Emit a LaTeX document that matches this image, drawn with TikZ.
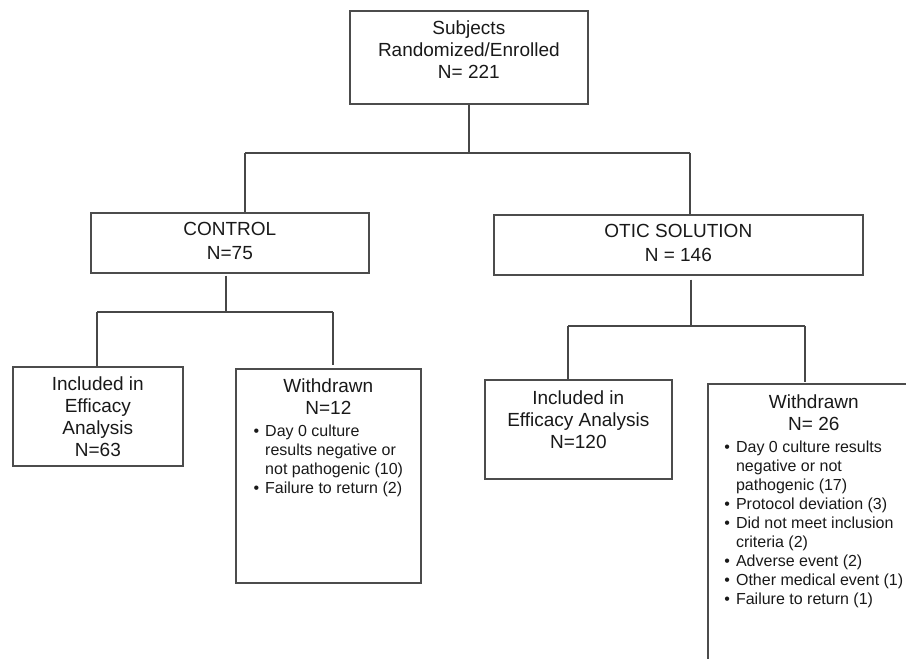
\documentclass[tikz,border=0pt]{standalone}
\usepackage{fontspec}
\setmainfont{Liberation Sans}
\usetikzlibrary{calc}
\newcommand{\ttlfont}{\fontsize{19}{22}\selectfont}
\newcommand{\itmfont}{\fontsize{16}{19}\selectfont}
\tikzset{
  box/.style={draw=black!70, line width=1.7pt, inner sep=0pt, anchor=north west},
  conn/.style={draw=black!72, line width=1.6pt},
  txt/.style={inner sep=0pt, anchor=base, text=black!90},
}
\begin{document}
\begin{tikzpicture}[x=1pt,y=-1pt]
\useasboundingbox (0,0) rectangle (906,659);
\clip (0,0) rectangle (906,659);
% boxes
\node[box, minimum width=238pt, minimum height=93pt] (top) at (349,10) {};
\node[box, minimum width=278pt, minimum height=60pt] (ctrl) at (90,212) {};
\node[box, minimum width=369pt, minimum height=60pt] (otic) at (493,214) {};
\node[box, minimum width=170pt, minimum height=99pt] (ci) at (12,366) {};
\node[box, minimum width=185pt, minimum height=214pt] (cw) at (235,368) {};
\node[box, minimum width=187pt, minimum height=99pt] (oi) at (484,379) {};
\node[box, minimum width=212pt, minimum height=320pt] (ow) at (707,383) {};
% texts
\node[txt] (top-t) at ($(top.north)+(0,24)$) {\ttlfont\begin{tabular}[t]{@{}c@{}}Subjects\\Randomized/Enrolled\\N= 221\end{tabular}};
\node[txt] (ctrl-t) at ($(ctrl.north)+(0,23)$) {\ttlfont\begin{tabular}[t]{@{}c@{}}CONTROL\\[2pt]N=75\end{tabular}};
\node[txt] (otic-t) at ($(otic.north)+(0,23)$) {\ttlfont\begin{tabular}[t]{@{}c@{}}OTIC SOLUTION\\[2pt]N = 146\end{tabular}};
\node[txt] (ci-t) at ($(ci.north)+(0,24)$) {\ttlfont\begin{tabular}[t]{@{}c@{}}Included in\\Efficacy\\Analysis\\N=63\end{tabular}};
\node[txt] (oi-t) at ($(oi.north)+(0,25)$) {\ttlfont\begin{tabular}[t]{@{}c@{}}Included in\\Efficacy Analysis\\N=120\end{tabular}};
\node[txt] (cw-t) at ($(cw.north)+(0,24)$) {\itmfont\begin{tabular}[t]{@{}l@{\hspace{6pt}}l@{}}
\multicolumn{2}{c}{\ttlfont Withdrawn}\\[3pt]
\multicolumn{2}{c}{\ttlfont N=12}\\[3pt]
\textbullet & Day 0 culture\\
 & results negative or\\
 & not pathogenic (10)\\
\textbullet & Failure to return (2)
\end{tabular}};
\node[txt] (ow-t) at ($(ow.north)+(0,25)$) {\itmfont\begin{tabular}[t]{@{}l@{\hspace{6pt}}l@{}}
\multicolumn{2}{c}{\ttlfont Withdrawn}\\[3pt]
\multicolumn{2}{c}{\ttlfont N= 26}\\[3pt]
\textbullet & Day 0 culture results\\
 & negative or not\\
 & pathogenic (17)\\
\textbullet & Protocol deviation (3)\\
\textbullet & Did not meet inclusion\\
 & criteria (2)\\
\textbullet & Adverse event (2)\\
\textbullet & Other medical event (1)\\
\textbullet & Failure to return (1)
\end{tabular}};
% connectors
\coordinate (j1l) at (245,153);
\coordinate (j1r) at (690,153);
\draw[conn] (top.south) -- (top.south |- j1l);
\draw[conn] (j1l) -- (j1r);
\draw[conn] (j1l) -- (j1l |- ctrl.north);
\draw[conn] (j1r) -- (j1r |- otic.north);
\coordinate (j2) at (226,312);
\coordinate (j2l) at (97,312);
\coordinate (j2r) at (333,312);
\draw[conn] ($(j2 |- ctrl.south)+(0,2)$) -- (j2);
\draw[conn] (j2l) -- (j2r);
\draw[conn] (j2l) -- (j2l |- ci.north);
\draw[conn] (j2r) -- ($(j2r |- cw.north)+(0,-3)$);
\coordinate (j3) at (691,326);
\coordinate (j3l) at (568,326);
\coordinate (j3r) at (805,326);
\draw[conn] ($(j3 |- otic.south)+(0,4)$) -- (j3);
\draw[conn] (j3l) -- (j3r);
\draw[conn] (j3l) -- (j3l |- oi.north);
\draw[conn] (j3r) -- ($(j3r |- ow.north)+(0,-1)$);
\end{tikzpicture}
\end{document}
